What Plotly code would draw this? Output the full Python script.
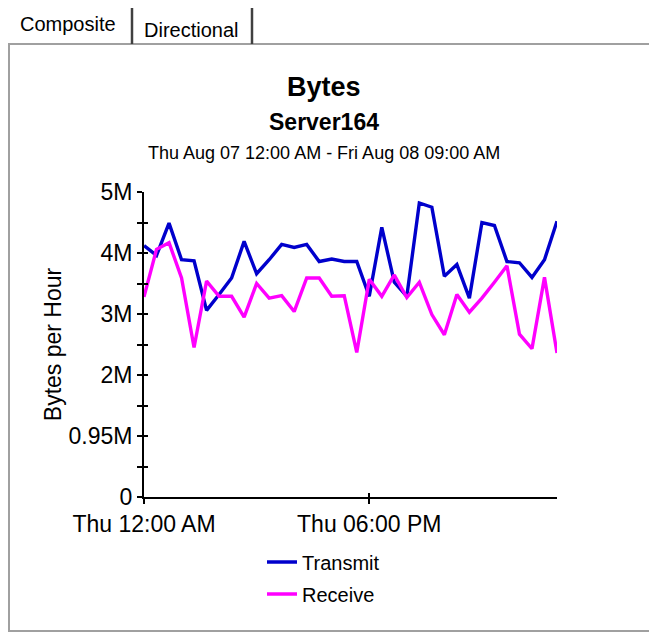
import plotly.graph_objects as go
import pandas as pd

# ---- data ----
times = pd.date_range("2008-08-07 00:00", "2008-08-08 09:00", freq="h")
transmit = [4.12, 3.96, 4.49, 3.89, 3.87, 3.06, 3.32, 3.59, 4.19, 3.66,
            3.89, 4.14, 4.09, 4.14, 3.86, 3.90, 3.86, 3.86, 3.29, 4.42,
            3.52, 3.29, 4.82, 4.75, 3.62, 3.81, 3.26, 4.50, 4.45, 3.86,
            3.84, 3.60, 3.89, 4.52]
receive = [3.28, 4.06, 4.17, 3.59, 2.45, 3.54, 3.29, 3.29, 2.95, 3.50,
           3.26, 3.30, 3.04, 3.59, 3.59, 3.29, 3.30, 2.37, 3.57, 3.29,
           3.64, 3.27, 3.52, 2.99, 2.66, 3.32, 3.03, 3.26, 3.52, 3.79,
           2.67, 2.43, 3.60, 2.36]
transmit = [v * 1e6 for v in transmit]
receive = [v * 1e6 for v in receive]
y_tickvals = [0, 0.5e6, 1e6, 1.5e6, 2e6, 2.5e6, 3e6, 3.5e6, 4e6, 4.5e6, 5e6]
y_ticktext = ["0", "", "0.95M", "", "2M", "", "3M", "", "4M", "", "5M"]
x_tickvals = [pd.Timestamp("2008-08-07 00:00"), pd.Timestamp("2008-08-07 18:00")]
x_ticktext = ["Thu 12:00 AM", "Thu 06:00 PM"]

# screen geometry (the page body adds an 8px offset)
OFF = 8
SW, SH = 657, 634
L, R, T, B = 144, 557, 192, 497          # plot area in screen pixels
W, H = SW - OFF, SH - OFF
FONT = "Liberation Sans, Arial, sans-serif"


def px(x):
    return (x - L) / (R - L)


def py(y):
    return (B - y) / (B - T)


fig = go.Figure()
fig.add_trace(go.Scatter(x=times, y=transmit, name="Transmit", mode="lines",
                         line=dict(color="#0000CC", width=3.4), legend="legend"))
fig.add_trace(go.Scatter(x=times, y=receive, name="Receive", mode="lines",
                         line=dict(color="#FF00FF", width=3.4), legend="legend2"))
# helper trace so the inside-tick overlay axes are drawn
fig.add_trace(go.Scatter(x=[times[0]], y=[None], xaxis="x2", yaxis="y2",
                         showlegend=False, hoverinfo="skip"))

axis_common = dict(showgrid=False, zeroline=False, color="black")
fig.update_layout(
    width=W, height=H,
    margin=dict(l=L - OFF, r=W - (R - OFF), t=T - OFF, b=H - (B - OFF), pad=0),
    paper_bgcolor="white", plot_bgcolor="white",
    font=dict(family=FONT, color="black", size=22),
    showlegend=True,
    xaxis=dict(type="date", range=[times[0], times[-1]],
               tickmode="array", tickvals=x_tickvals, ticktext=x_ticktext,
               ticks="outside", ticklen=5, tickwidth=1.5, tickcolor="black",
               showline=True, linecolor="black", linewidth=2,
               tickfont=dict(size=23), **axis_common),
    yaxis=dict(range=[0, 5e6], tickmode="array", tickvals=y_tickvals,
               ticktext=y_ticktext, ticks="outside", ticklen=5, tickwidth=1.5,
               tickcolor="black", showline=True, linecolor="black", linewidth=2,
               tickfont=dict(size=23), ticklabelstandoff=0,
               title=dict(text="Bytes per Hour", font=dict(size=23), standoff=0),
               **axis_common),
    xaxis2=dict(type="date", overlaying="x", range=[times[0], times[-1]],
                tickmode="array", tickvals=x_tickvals, ticktext=["", ""],
                ticks="inside", ticklen=4, tickwidth=1.5, tickcolor="black",
                side="bottom", showline=False, **axis_common),
    yaxis2=dict(overlaying="y", range=[0, 5e6], tickmode="array",
                tickvals=y_tickvals, ticktext=[""] * len(y_tickvals),
                ticks="inside", ticklen=4, tickwidth=1.5, tickcolor="black",
                side="left", showline=False, **axis_common),
    legend=dict(x=px(262), y=py(562), xanchor="left", yanchor="middle",
                font=dict(size=20), bgcolor="rgba(0,0,0,0)"),
    legend2=dict(x=px(262), y=py(594), xanchor="left", yanchor="middle",
                 font=dict(size=20), bgcolor="rgba(0,0,0,0)"),
)

# titles
fig.add_annotation(text="<b>Bytes</b>", x=px(324), y=py(87), xref="paper", yref="paper",
                   showarrow=False, font=dict(size=27), xanchor="center", yanchor="middle")
fig.add_annotation(text="<b>Server164</b>", x=px(324), y=py(122), xref="paper", yref="paper",
                   showarrow=False, font=dict(size=23), xanchor="center", yanchor="middle")
fig.add_annotation(text="Thu Aug 07 12:00 AM - Fri Aug 08 09:00 AM", x=px(324), y=py(153),
                   xref="paper", yref="paper", showarrow=False, font=dict(size=18),
                   xanchor="center", yanchor="middle")

# tabs
fig.add_annotation(text="Composite", x=px(18), y=py(24), xref="paper", yref="paper",
                   showarrow=False, font=dict(size=20), xanchor="left", yanchor="middle")
fig.add_annotation(text="Directional", x=px(142), y=py(30), xref="paper", yref="paper",
                   showarrow=False, font=dict(size=20), xanchor="left", yanchor="middle")

shapes = [
    # panel frame
    dict(type="rect", xref="paper", yref="paper", x0=px(9), x1=px(654), y0=py(44), y1=py(631),
         line=dict(color="#A0A0A0", width=2), fillcolor="rgba(0,0,0,0)", layer="below"),
    # tab separators
    dict(type="line", xref="paper", yref="paper", x0=px(132), x1=px(132), y0=py(5), y1=py(44),
         line=dict(color="#404040", width=2.5)),
    dict(type="line", xref="paper", yref="paper", x0=px(252), x1=px(252), y0=py(8), y1=py(44),
         line=dict(color="#404040", width=2.5)),
]
fig.update_layout(shapes=shapes)

fig.write_html("out.html")
